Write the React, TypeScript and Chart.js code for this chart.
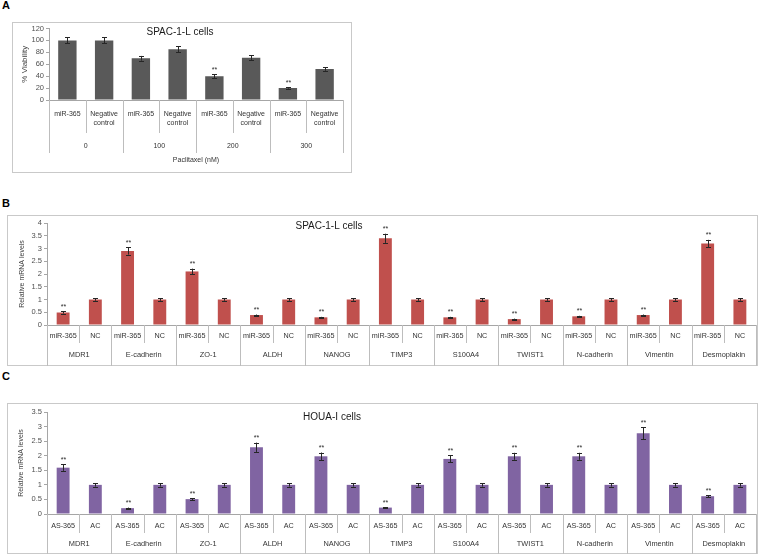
import React, { useEffect, useRef } from 'react';
import { Chart, registerables } from 'chart.js';
Chart.register(...registerables);

const FAM = '"Liberation Sans", Arial, Helvetica, sans-serif';
Chart.defaults.font.family = FAM;

// ---------- Panel A data ----------
const aDoses = ['0', '100', '200', '300'];
const aConds = [['miR-365'], ['Negative', 'control']];
const aMir = [100, 70, 40, 20];
const aMirErr = [5, 4, 3, 1];
const aMirSig = ['', '', '**', '**'];
const aNeg = [100, 85, 71, 52];
const aNegErr = [5, 5, 4, 3];
const aNegSig = ['', '', '', ''];
const aYTicks = { min: 0, max: 120, step: 20 };

// ---------- Genes (B & C) ----------
const genes = ['MDR1', 'E-cadherin', 'ZO-1', 'ALDH', 'NANOG', 'TIMP3', 'S100A4', 'TWIST1', 'N-cadherin', 'Vimentin', 'Desmoplakin'];

// ---------- Panel B data ----------
const bConds = [['miR-365'], ['NC']];
const bMir = [0.49, 2.9, 2.1, 0.39, 0.3, 3.4, 0.3, 0.23, 0.34, 0.39, 3.2];
const bMirErr = [0.04, 0.14, 0.11, 0.02, 0.02, 0.18, 0.02, 0.02, 0.02, 0.02, 0.14];
const bMirSig = ['**', '**', '**', '**', '**', '**', '**', '**', '**', '**', '**'];
const bNc = [1, 1, 1, 1, 1, 1, 1, 1, 1, 1, 1];
const bNcErr = [0.05, 0.05, 0.05, 0.05, 0.05, 0.05, 0.05, 0.05, 0.05, 0.05, 0.05];
const bNcSig = ['', '', '', '', '', '', '', '', '', '', ''];
const bYTicks = { min: 0, max: 4, step: 0.5 };

// ---------- Panel C data ----------
const cConds = [['AS-365'], ['AC']];
const cAs = [1.59, 0.2, 0.51, 2.29, 1.98, 0.22, 1.89, 1.98, 1.98, 2.77, 0.61];
const cAsErr = [0.11, 0.02, 0.03, 0.16, 0.13, 0.02, 0.12, 0.12, 0.12, 0.2, 0.04];
const cAsSig = ['**', '**', '**', '**', '**', '**', '**', '**', '**', '**', '**'];
const cAc = [1, 1, 1, 1, 1, 1, 1, 1, 1, 1, 1];
const cAcErr = [0.06, 0.06, 0.06, 0.06, 0.06, 0.06, 0.06, 0.06, 0.06, 0.06, 0.06];
const cAcSig = ['', '', '', '', '', '', '', '', '', '', ''];
const cYTicks = { min: 0, max: 3.5, step: 0.5 };

type Series = { values: number[]; errors: number[]; sig: string[] };
type Spec = {
  left: number; top: number; width: number; height: number;
  groups: string[]; conds: string[][]; series: Series[];
  color: string; yt: { min: number; max: number; step: number };
  yAxisWidth: number; padTop: number; padRight: number; xAxisHeight: number;
  barPct: number;
  title: string; titleX: number; titleY: number;
  yTitle: string; yTitleX: number; yTitleSize: number;
  rowY: number; lineGap: number; groupY: number; innerBottom: number; groupBottom: number;
  xTitle?: string; xTitleY?: number;
  tickSize: number; catSize: number; groupSize: number;
};

const specA: Spec = {
  left: 12, top: 22, width: 340, height: 151,
  groups: aDoses, conds: aConds,
  series: [
    { values: aMir, errors: aMirErr, sig: aMirSig },
    { values: aNeg, errors: aNegErr, sig: aNegSig },
  ],
  color: '#595959', yt: aYTicks,
  yAxisWidth: 37, padTop: 6, padRight: 9, xAxisHeight: 73, barPct: 0.5,
  title: 'SPAC-1-L cells', titleX: 168, titleY: 10,
  yTitle: '% Viability', yTitleX: 13, yTitleSize: 8,
  rowY: 92, lineGap: 9, groupY: 124, innerBottom: 111, groupBottom: 131,
  xTitle: 'Paclitaxel (nM)', xTitleY: 138,
  tickSize: 7.5, catSize: 7, groupSize: 7,
};

const specB: Spec = {
  left: 7, top: 215, width: 751, height: 151,
  groups: genes, conds: bConds,
  series: [
    { values: bMir, errors: bMirErr, sig: bMirSig },
    { values: bNc, errors: bNcErr, sig: bNcSig },
  ],
  color: '#C0504D', yt: bYTicks,
  yAxisWidth: 40, padTop: 8, padRight: 2, xAxisHeight: 41, barPct: 0.4,
  title: 'SPAC-1-L cells', titleX: 322, titleY: 11,
  yTitle: 'Relative mRNA levels', yTitleX: 15, yTitleSize: 7,
  rowY: 121, lineGap: 9, groupY: 140, innerBottom: 128, groupBottom: 151,
  tickSize: 7.5, catSize: 7.2, groupSize: 7.4,
};

const specC: Spec = {
  left: 7, top: 403, width: 751, height: 151,
  groups: genes, conds: cConds,
  series: [
    { values: cAs, errors: cAsErr, sig: cAsSig },
    { values: cAc, errors: cAcErr, sig: cAcSig },
  ],
  color: '#8064A2', yt: cYTicks,
  yAxisWidth: 40, padTop: 9, padRight: 2, xAxisHeight: 40, barPct: 0.4,
  title: 'HOUA-I cells', titleX: 325, titleY: 14,
  yTitle: 'Relative mRNA levels', yTitleX: 14, yTitleSize: 7,
  rowY: 123, lineGap: 9, groupY: 141, innerBottom: 130, groupBottom: 151,
  tickSize: 7.5, catSize: 7.2, groupSize: 7.4,
};

function Panel({ s }: { s: Spec }) {
  const ref = useRef<HTMLCanvasElement>(null);
  useEffect(() => {
    if (!ref.current) return;
    const labels: string[] = [];
    const values: number[] = [];
    const errs: number[] = [];
    const sigs: string[] = [];
    const condIdx: number[] = [];
    s.groups.forEach((g, gi) => {
      s.series.forEach((ser, ci) => {
        labels.push(g + ' ' + s.conds[ci].join(' '));
        values.push(ser.values[gi]);
        errs.push(ser.errors[gi]);
        sigs.push(ser.sig[gi]);
        condIdx.push(ci);
      });
    });
    const nC = s.conds.length;
    const crisp = (v: number) => Math.round(v) + 0.5;

    const plugin = {
      id: 'panelDecor',
      beforeDraw(chart: any) {
        const ctx = chart.ctx;
        ctx.save();
        ctx.fillStyle = '#ffffff';
        ctx.fillRect(0, 0, chart.width, chart.height);
        ctx.strokeStyle = '#c9c9c9';
        ctx.lineWidth = 1;
        ctx.strokeRect(0.5, 0.5, chart.width - 1, chart.height - 1);
        ctx.restore();
      },
      afterDatasetsDraw(chart: any) {
        const ctx = chart.ctx;
        const x = chart.scales.x;
        const y = chart.scales.y;
        ctx.save();
        ctx.strokeStyle = '#262626';
        ctx.fillStyle = '#262626';
        ctx.lineWidth = 1;
        for (let i = 0; i < values.length; i++) {
          const px = crisp(x.getPixelForValue(i));
          const yt = y.getPixelForValue(values[i] + errs[i]);
          const yb = y.getPixelForValue(values[i] - errs[i]);
          ctx.beginPath();
          ctx.moveTo(px, yt);
          ctx.lineTo(px, yb);
          ctx.moveTo(px - 2.5, crisp(yt));
          ctx.lineTo(px + 2.5, crisp(yt));
          ctx.moveTo(px - 2.5, crisp(yb));
          ctx.lineTo(px + 2.5, crisp(yb));
          ctx.stroke();
          if (sigs[i]) {
            ctx.font = `7px ${FAM}`;
            ctx.textAlign = 'center';
            ctx.textBaseline = 'alphabetic';
            ctx.fillText(sigs[i], px, yt - 2.5);
          }
        }
        ctx.restore();
      },
      afterDraw(chart: any) {
        const ctx = chart.ctx;
        const x = chart.scales.x;
        const area = chart.chartArea;
        const step = x.getPixelForValue(1) - x.getPixelForValue(0);
        ctx.save();
        // table lines
        ctx.strokeStyle = '#bdbdbd';
        ctx.lineWidth = 1;
        for (let i = 0; i <= values.length; i++) {
          const bx = crisp(x.getPixelForValue(0) - step / 2 + i * step);
          const bottom = i % nC === 0 ? s.groupBottom : s.innerBottom;
          ctx.beginPath();
          ctx.moveTo(bx, area.bottom);
          ctx.lineTo(bx, bottom);
          ctx.stroke();
        }
        // category labels
        ctx.fillStyle = '#333333';
        ctx.textAlign = 'center';
        ctx.textBaseline = 'middle';
        ctx.font = `${s.catSize}px ${FAM}`;
        for (let i = 0; i < values.length; i++) {
          const lines = s.conds[condIdx[i]];
          const px = x.getPixelForValue(i);
          lines.forEach((ln, k) => ctx.fillText(ln, px, s.rowY + k * s.lineGap));
        }
        // group labels
        ctx.font = `${s.groupSize}px ${FAM}`;
        s.groups.forEach((g, gi) => {
          const a = x.getPixelForValue(gi * nC);
          const b = x.getPixelForValue(gi * nC + nC - 1);
          ctx.fillText(g, (a + b) / 2, s.groupY);
        });
        // x title
        if (s.xTitle) {
          ctx.fillText(s.xTitle, (area.left + area.right) / 2, s.xTitleY);
        }
        // chart title
        ctx.fillStyle = '#1a1a1a';
        ctx.font = `10px ${FAM}`;
        ctx.fillText(s.title, s.titleX, s.titleY);
        // y title
        ctx.fillStyle = '#404040';
        ctx.font = `${s.yTitleSize}px ${FAM}`;
        ctx.translate(s.yTitleX, (area.top + area.bottom) / 2);
        ctx.rotate(-Math.PI / 2);
        ctx.fillText(s.yTitle, 0, 0);
        ctx.restore();
      },
    };

    const chart = new Chart(ref.current, {
      type: 'bar',
      data: {
        labels,
        datasets: [
          {
            data: values,
            backgroundColor: s.color,
            borderWidth: 0,
            barPercentage: s.barPct,
            categoryPercentage: 1,
          },
        ],
      },
      options: {
        responsive: false,
        animation: false,
        devicePixelRatio: 1,
        layout: { padding: { left: 0, top: s.padTop, right: s.padRight, bottom: 0 } },
        plugins: { legend: { display: false }, tooltip: { enabled: false }, title: { display: false } },
        scales: {
          x: {
            type: 'category',
            offset: true,
            grid: { display: false },
            ticks: { display: false },
            border: { display: true, color: '#a6a6a6', width: 1 },
            afterFit: (scale: any) => { scale.height = s.xAxisHeight; },
          },
          y: {
            min: s.yt.min,
            max: s.yt.max,
            ticks: {
              stepSize: s.yt.step,
              autoSkip: false,
              maxTicksLimit: 50,
              color: '#505050',
              font: { size: s.tickSize, family: FAM },
              padding: 2,
              callback: (v: any) => String(Math.round(Number(v) * 100) / 100),
            },
            grid: { display: true, drawOnChartArea: false, drawTicks: true, tickLength: 3, color: '#a6a6a6' },
            border: { display: true, color: '#a6a6a6', width: 1 },
            afterFit: (scale: any) => { scale.width = s.yAxisWidth; },
          },
        },
      },
      plugins: [plugin],
    } as any);
    return () => chart.destroy();
  }, [s]);

  return (
    <canvas
      ref={ref}
      width={s.width}
      height={s.height}
      style={{ position: 'absolute', left: s.left, top: s.top, width: s.width, height: s.height, display: 'block' }}
    />
  );
}

const letterStyle: React.CSSProperties = {
  position: 'absolute',
  left: 2,
  fontFamily: FAM,
  fontWeight: 'bold',
  fontSize: 11,
  lineHeight: '11px',
  color: '#000',
};

export default function App() {
  return (
    <div style={{ position: 'absolute', left: 0, top: 0, width: 763, height: 555, background: '#fff', overflow: 'hidden' }}>
      <div style={{ ...letterStyle, top: 0 }}>A</div>
      <div style={{ ...letterStyle, top: 198 }}>B</div>
      <div style={{ ...letterStyle, top: 371 }}>C</div>
      <Panel s={specA} />
      <Panel s={specB} />
      <Panel s={specC} />
    </div>
  );
}
